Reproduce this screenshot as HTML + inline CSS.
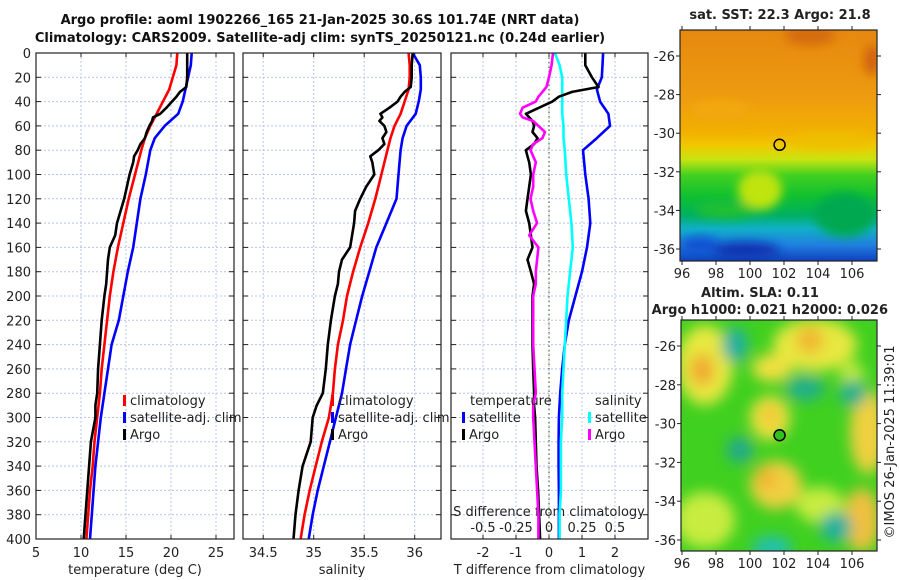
<!DOCTYPE html>
<html><head><meta charset="utf-8"><style>
body{margin:0;background:#fff;}
svg{display:block;font-family:"DejaVu Sans","Liberation Sans",sans-serif;}
</style></head><body>
<svg id="fig" width="900" height="580" viewBox="0 0 900 580">
<defs>
<filter id="blur1" x="-20%" y="-20%" width="140%" height="140%"><feGaussianBlur stdDeviation="5"/></filter>
<filter id="blur2" x="-30%" y="-30%" width="160%" height="160%"><feGaussianBlur stdDeviation="7"/></filter>
<linearGradient id="sstg" x1="0" y1="0" x2="0" y2="1">
<stop offset="0" stop-color="#e68810"/><stop offset="0.3" stop-color="#ee9c10"/>
<stop offset="0.45" stop-color="#f2b200"/><stop offset="0.5" stop-color="#f0c800"/>
<stop offset="0.56" stop-color="#c8e410"/><stop offset="0.63" stop-color="#40d020"/>
<stop offset="0.72" stop-color="#10c030"/><stop offset="0.8" stop-color="#00b060"/>
<stop offset="0.86" stop-color="#10b0c8"/><stop offset="0.93" stop-color="#2080e0"/><stop offset="1" stop-color="#1040c0"/>
</linearGradient>
<clipPath id="c1"><rect x="680" y="30" width="197" height="231"/></clipPath>
<clipPath id="c2"><rect x="681" y="320" width="196" height="231"/></clipPath>
</defs>
<g font-weight="bold" font-size="13" text-anchor="middle" fill="#111">
<text x="320" y="24">Argo profile: aoml 1902266_165 21-Jan-2025 30.6S 101.74E (NRT data)</text>
<text x="320" y="42">Climatology: CARS2009. Satellite-adj clim: synTS_20250121.nc (0.24d earlier)</text>
</g>
<g id="axes"></g>
<g id="maps"></g>
<text x="0" y="0" font-size="13" fill="#222" transform="translate(894,442) rotate(-90)" text-anchor="middle">©IMOS 26-Jan-2025 11:39:01</text>
</svg>
<script>
// ---- data ----
const depthsClim = [0,10,20,30,40,50,60,70,80,100,120,140,160,180,200,220,240,260,280,300,320,340,360,380,400];
const tempClim = [20.7,20.6,20.2,19.8,19.1,18.4,17.7,17.1,16.7,16.0,15.3,14.7,14.1,13.6,13.2,12.9,12.6,12.3,12.1,11.8,11.5,11.3,11.0,10.8,10.6];
const tempSat = [22.3,22.2,21.9,21.6,21.3,20.8,19.3,18.2,17.7,17.2,16.6,16.2,15.8,15.2,14.7,14.2,13.4,13.0,12.6,12.2,11.9,11.6,11.4,11.2,11.0];
const salClim = [35.94,35.95,35.95,35.94,35.90,35.86,35.80,35.76,35.73,35.67,35.61,35.54,35.46,35.39,35.33,35.29,35.24,35.21,35.19,35.15,35.08,35.02,34.96,34.91,34.87];
const salSat = [35.98,36.05,36.06,36.06,36.04,36.01,35.92,35.88,35.86,35.84,35.82,35.72,35.62,35.55,35.48,35.42,35.36,35.32,35.28,35.22,35.16,35.10,35.04,34.99,34.95];
const depthsArgo = [0,10,20,28,32,36,40,45,50,53,56,60,65,70,75,80,85,90,100,110,120,130,140,150,160,170,180,190,200,220,240,260,280,290,300,320,340,360,380,400];
const tempArgo = [21.8,21.8,21.8,21.7,21.0,20.6,20.1,19.5,18.8,18.0,17.9,17.6,17.3,17.1,16.6,16.3,15.9,15.8,15.4,15.1,14.8,14.4,14.0,13.8,13.2,13.0,12.9,12.8,12.6,12.3,12.1,11.9,11.8,11.6,11.6,11.1,10.9,10.7,10.5,10.3];
const salArgo = [35.98,35.97,35.97,35.96,35.90,35.86,35.83,35.75,35.66,35.68,35.65,35.70,35.72,35.68,35.70,35.64,35.56,35.58,35.60,35.52,35.46,35.41,35.40,35.38,35.36,35.28,35.25,35.24,35.21,35.17,35.14,35.12,35.09,35.03,34.99,34.97,34.89,34.85,34.82,34.80];
const tDiffSat = [1.64,1.62,1.6,1.45,1.55,1.8,1.85,1.45,1.03,1.1,1.2,1.25,1.15,1.0,0.8,0.6,0.48,0.4,0.34,0.3,0.29,0.29,0.3,0.3,0.3];
const sDiffSat = [0.045,0.08,0.1,0.1,0.1,0.1,0.11,0.11,0.12,0.13,0.15,0.17,0.18,0.16,0.14,0.13,0.12,0.11,0.1,0.1,0.09,0.09,0.09,0.08,0.08];
const tDiffArgo = [1.1,1.1,1.3,1.5,0.7,0.3,0.1,-0.3,-0.7,-0.6,-0.5,-0.45,-0.5,-0.35,-0.45,-0.7,-0.65,-0.6,-0.55,-0.6,-0.65,-0.7,-0.6,-0.55,-0.5,-0.65,-0.55,-0.45,-0.5,-0.5,-0.5,-0.48,-0.45,-0.45,-0.42,-0.4,-0.38,-0.33,-0.3,-0.27];
const sDiffArgo = [0.03,0.02,0.0,-0.02,-0.05,-0.08,-0.1,-0.2,-0.22,-0.2,-0.12,-0.08,-0.03,-0.05,-0.12,-0.14,-0.12,-0.1,-0.12,-0.12,-0.14,-0.12,-0.09,-0.15,-0.08,-0.09,-0.1,-0.1,-0.12,-0.12,-0.12,-0.11,-0.1,-0.12,-0.12,-0.11,-0.1,-0.09,-0.08,-0.08];
const depthTicks = [0,20,40,60,80,100,120,140,160,180,200,220,240,260,280,300,320,340,360,380,400];
const tempTicks = [5,10,15,20,25];
const salTicks = [34.5,35,35.5,36];
const tDiffTicks = [-2,-1,0,1,2];
const sDiffTicks = [-0.5,-0.25,0,0.25,0.5];
const lonTicks = [96,98,100,102,104,106];
const latTicks = [-26,-28,-30,-32,-34,-36];
const argoLon = 101.74, argoLat = -30.6;

// ---- axis functions ----
const Y0=53, Y1=539;
const yD = d => Y0 + d*(Y1-Y0)/400;
const xT = v => 36 + (v-5)*9;
const xS = v => 243 + (v-34.3)*101;
const xTD = v => 549 + v*33;
const xSD = v => 549 + v*132;
const mx1 = lon => 682 + (lon-96)*17.0;
const my1 = lat => 56 + (-26-lat)*19.3;
const mx2 = lon => 682 + (lon-96)*17.0;
const my2 = lat => 346 + (-26-lat)*19.4;

const NS="http://www.w3.org/2000/svg";
function mk(tag, attrs, parent){const e=document.createElementNS(NS,tag);for(const k in attrs)e.setAttribute(k,attrs[k]);(parent||document.getElementById('axes')).appendChild(e);return e;}
function txt(s,x,y,attrs,parent){const e=mk('text',Object.assign({x:x,y:y,'font-size':13,fill:'#222'},attrs||{}),parent);e.textContent=s;return e;}

const panels=[{x0:36,x1:234,ticks:tempTicks,fx:xT,label:'temperature (deg C)',name:'temperature-panel'},
{x0:243,x1:441,ticks:salTicks,fx:xS,label:'salinity',name:'salinity-panel'},
{x0:451,x1:648,ticks:tDiffTicks,fx:xTD,label:'T difference from climatology',name:'difference-panel'}];
const ax=document.getElementById('axes');
panels.forEach((p,i)=>{
  const g=mk('g',{},ax);
  
  
  p.ticks.forEach(t=>{mk('line',{x1:p.fx(t),x2:p.fx(t),y1:Y0,y2:Y1,stroke:'#b8c4ec','stroke-width':1,'stroke-dasharray':'2,2'},g);
    mk('line',{x1:p.fx(t),x2:p.fx(t),y1:Y1,y2:Y1-4,stroke:'#222'},g);mk('line',{x1:p.fx(t),x2:p.fx(t),y1:Y0,y2:Y0+4,stroke:'#222'},g);
    const tl=txt(String(t),p.fx(t),557,{'text-anchor':'middle'},g);
    
    });
  depthTicks.forEach(d=>{mk('line',{x1:p.x0,x2:p.x1,y1:yD(d),y2:yD(d),stroke:'#b8c4ec','stroke-width':1,'stroke-dasharray':'2,2'},g);
    mk('line',{x1:p.x0,x2:p.x0+5,y1:yD(d),y2:yD(d),stroke:'#222'},g);mk('line',{x1:p.x1-5,x2:p.x1,y1:yD(d),y2:yD(d),stroke:'#222'},g);
    if(i==0){const tl=txt(String(d),31,yD(d)+5,{'text-anchor':'end'},g);
      
      }});
  const xl=txt(p.label,(p.x0+p.x1)/2,574,{'text-anchor':'middle'},g);
  
  
  p.g=g;
});
mk('line',{x1:xTD(0),x2:xTD(0),y1:Y0,y2:Y1,stroke:'#556b2f','stroke-width':1.2,'stroke-dasharray':'1.5,3'},panels[2].g);
sDiffTicks.forEach(t=>{const e=txt(String(t),xSD(t),532,{'text-anchor':'middle'},panels[2].g);
  
  });
const sdt=txt('S difference from climatology',549,516,{'text-anchor':'middle'},panels[2].g);



function line(xs,ds,fx,color,name,g){
  const pts=xs.map((v,i)=>fx(v).toFixed(1)+','+yD(ds[i]).toFixed(1)).join(' ');
  const e=mk('polyline',{points:pts,fill:'none',stroke:color,'stroke-width':2.6,'stroke-linejoin':'round'},g);
  
  
}
line(tempClim,depthsClim,xT,'#ff0000','temp-climatology-line',panels[0].g);
line(tempSat,depthsClim,xT,'#0000ff','temp-satellite-line',panels[0].g);
line(tempArgo,depthsArgo,xT,'#000','temp-argo-line',panels[0].g);
line(salClim,depthsClim,xS,'#ff0000','sal-climatology-line',panels[1].g);
line(salSat,depthsClim,xS,'#0000ff','sal-satellite-line',panels[1].g);
line(salArgo,depthsArgo,xS,'#000','sal-argo-line',panels[1].g);
line(tDiffSat,depthsClim,xTD,'#0000ff','tdiff-satellite-line',panels[2].g);
line(sDiffSat,depthsClim,xSD,'#00ffff','sdiff-satellite-line',panels[2].g);
line(tDiffArgo,depthsArgo,xTD,'#000','tdiff-argo-line',panels[2].g);
line(sDiffArgo,depthsArgo,xSD,'#ff00ff','sdiff-argo-line',panels[2].g);

function legEntry(x,y,color,label,g){
  const e=mk('g',{},g);
  
  
  mk('rect',{x:x,y:y-10,width:3,height:11,fill:color},e);
  txt(label,x+7,y,{},e);
}
[[0,123],[1,331]].forEach(([pi,x])=>{
  legEntry(x,405,'#ff0000','climatology',panels[pi].g);
  legEntry(x,422,'#0000ff','satellite-adj. clim',panels[pi].g);
  legEntry(x,439,'#000','Argo',panels[pi].g);
});
const lt=txt('temperature',470,405,{},panels[2].g);


const ls=txt('salinity',595,405,{},panels[2].g);


legEntry(462,422,'#0000ff','satellite',panels[2].g);
legEntry(462,439,'#000','Argo',panels[2].g);
legEntry(588,422,'#00ffff','satellite',panels[2].g);
legEntry(588,439,'#ff00ff','Argo',panels[2].g);
panels.forEach(p=>mk('rect',{x:p.x0,y:Y0,width:p.x1-p.x0,height:Y1-Y0,fill:'none',stroke:'#222','stroke-width':1.2},p.g));

// ---- maps ----
const mg=document.getElementById('maps');
function mapAxes(g,x0,y0,w,h,fx,fy){
  lonTicks.forEach(t=>{mk('line',{x1:fx(t),x2:fx(t),y1:y0+h,y2:y0+h+4,stroke:'#222'},g);mk('line',{x1:fx(t),x2:fx(t),y1:y0,y2:y0-4,stroke:'#222'},g);
    const e=txt(String(t),fx(t),y0+h+17,{'text-anchor':'middle'},g);
    
    });
  latTicks.forEach(t=>{mk('line',{x1:x0-4,x2:x0,y1:fy(t),y2:fy(t),stroke:'#222'},g);mk('line',{x1:x0+w,x2:x0+w+4,y1:fy(t),y2:fy(t),stroke:'#222'},g);
    const e=txt(String(t),x0-5,fy(t)+5,{'text-anchor':'end'},g);
    
    });
  mk('rect',{x:x0,y:y0,width:w,height:h,fill:'none',stroke:'#222','stroke-width':1.2},g);
}
const g1=mk('g',{},mg);


mk('rect',{x:680,y:30,width:197,height:231,fill:'url(#sstg)'},g1);
const b1=mk('g',{'clip-path':'url(#c1)',filter:'url(#blur1)'},g1);
[[810,35,25,10,'#d46a08'],[872,60,8,15,'#d06008'],[720,110,30,10,'#f2a810'],[760,190,22,20,'#c0e410'],[725,210,30,8,'#20c030'],[845,215,30,22,'#00a850'],[745,250,35,8,'#1030b0'],[700,245,20,8,'#1050d0'],[830,140,40,8,'#eebe00']].forEach(b=>mk('ellipse',{cx:b[0],cy:b[1],rx:b[2],ry:b[3],fill:b[4]},b1));
mk('circle',{cx:mx1(argoLon),cy:my1(argoLat),r:5.5,fill:'none',stroke:'#000','stroke-width':1.5},g1);
mapAxes(g1,680,30,197,231,mx1,my1);
const st=txt('sat. SST: 22.3 Argo: 21.8',780,19,{'text-anchor':'middle','font-weight':'bold'},g1);



const g2=mk('g',{},mg);


mk('rect',{x:681,y:320,width:196,height:231,fill:'#40d020'},g2);
const b2=mk('g',{'clip-path':'url(#c2)',filter:'url(#blur2)'},g2);
[[705,365,28,40,'#e8e840'],[702,370,12,16,'#f0a830'],[815,345,42,26,'#e8e840'],[810,340,14,14,'#f0b830'],[772,368,20,14,'#f0e040'],[770,418,20,22,'#f0e040'],[770,415,8,9,'#f0c030'],[868,432,18,42,'#f0d040'],[776,485,26,24,'#f0d040'],[766,478,10,10,'#f0b030'],[705,520,30,28,'#c8ec40'],[862,520,18,32,'#f0c040'],[820,505,24,18,'#c8ec40'],[852,378,12,16,'#c8ec40']].forEach(b=>mk('ellipse',{cx:b[0],cy:b[1],rx:b[2],ry:b[3],fill:b[4]},b2));
[[735,345,13,18,'#20b0a0'],[805,388,20,13,'#20b088'],[853,393,14,14,'#20b090'],[740,450,13,13,'#20a890'],[836,527,16,15,'#20b0a0'],[772,548,20,12,'#20c0b0']].forEach(b=>mk('ellipse',{cx:b[0],cy:b[1],rx:b[2],ry:b[3],fill:b[4]},b2));
mk('circle',{cx:mx2(argoLon),cy:my2(argoLat),r:5.5,fill:'#30c020',stroke:'#000','stroke-width':1.5},g2);
mapAxes(g2,681,320,196,231,mx2,my2);
const t2a=txt('Altim. SLA: 0.11',760,297,{'text-anchor':'middle','font-weight':'bold'},g2);


const t2b=txt('Argo h1000: 0.021 h2000: 0.026',888,314,{'text-anchor':'end','font-weight':'bold'},g2);


</script>
</body></html>
